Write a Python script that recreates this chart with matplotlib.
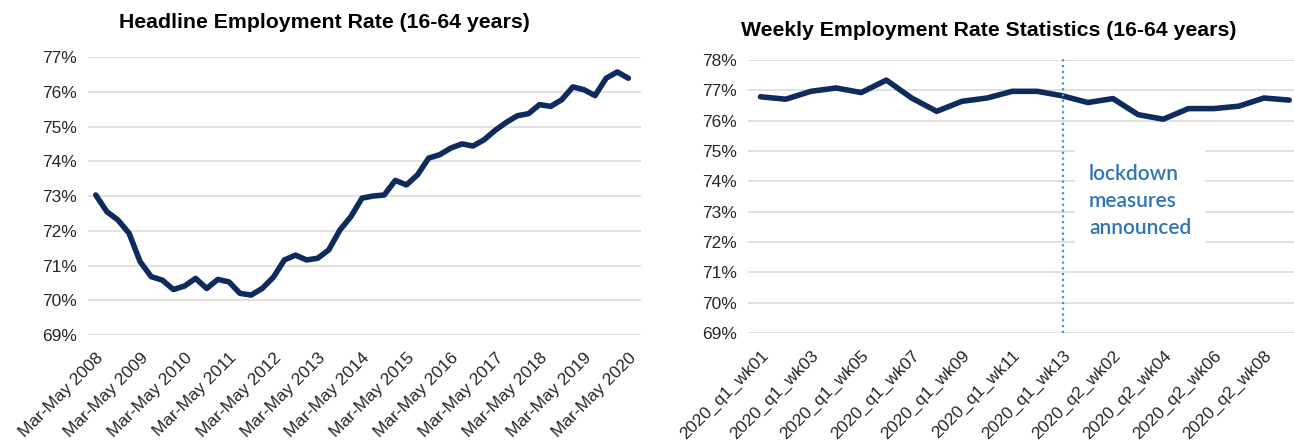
import matplotlib.pyplot as plt
import numpy as np

plt.rcParams['font.family'] = ['Liberation Sans', 'DejaVu Sans']

# headline rate, quarterly (Mar-May 2008 .. Mar-May 2020), %
headline_rate = [73.03, 72.55, 72.31, 71.93, 71.11, 70.68, 70.58, 70.31, 70.41, 70.63,
                 70.34, 70.60, 70.53, 70.20, 70.15, 70.34, 70.66, 71.16, 71.30, 71.16,
                 71.21, 71.45, 72.02, 72.41, 72.94, 73.00, 73.03, 73.45, 73.32, 73.61,
                 74.09, 74.19, 74.38, 74.50, 74.44, 74.62, 74.89, 75.12, 75.31, 75.37,
                 75.63, 75.58, 75.77, 76.14, 76.06, 75.89, 76.39, 76.57, 76.39]
quarter_names = ["Mar-May", "Jun-Aug", "Sep-Nov", "Dec-Feb"]
first_year = 2008

# weekly rate, 2020 q1 wk01 .. q2 wk09, %
weekly_rate = [76.79, 76.71, 76.97, 77.08, 76.93, 77.34, 76.75, 76.31, 76.64, 76.75,
               76.97, 76.97, 76.82, 76.60, 76.73, 76.20, 76.05, 76.40, 76.40, 76.48,
               76.75, 76.68]
weeks_q1 = 13
weeks_q2 = 9
lockdown_week = "2020_q1_wk13"

line_color = "#0f2a5c"
grid_color = "#d9d9d9"

headline_labels = []
for i in range(len(headline_rate)):
    yr = first_year + i // 4
    q = quarter_names[i % 4]
    if q == "Dec-Feb":
        headline_labels.append(f"{q} {yr + 1}")
    else:
        headline_labels.append(f"{q} {yr}")

week_labels = [f"2020_q1_wk{w:02d}" for w in range(1, weeks_q1 + 1)] + \
              [f"2020_q2_wk{w:02d}" for w in range(1, weeks_q2 + 1)]

fig = plt.figure(figsize=(12.94, 4.42), dpi=100)
ax1 = fig.add_axes([0.068, 0.242, 0.427, 0.629])
ax2 = fig.add_axes([0.578, 0.247, 0.428, 0.617])


def style_axis(ax, lo, hi):
    ax.set_ylim(lo, hi)
    ax.set_yticks(np.arange(lo, hi + 1))
    ax.set_yticklabels([f"{v}%" for v in range(lo, hi + 1)], fontsize=12.5, color="#262626")
    ax.grid(axis="y", color=grid_color, lw=1.1)
    ax.set_axisbelow(True)
    for s in ax.spines.values():
        s.set_visible(False)
    ax.tick_params(length=0, pad=8)


# left panel
x1 = np.arange(len(headline_rate))
ax1.plot(x1, headline_rate, color=line_color, lw=4, solid_capstyle="round",
         solid_joinstyle="round")
style_axis(ax1, 69, 77)
ax1.set_xlim(-0.7, len(headline_rate) - 1 + 1.1)
ax1.set_xticks(x1[::4])
ax1.set_xticklabels(headline_labels[::4], rotation=45, ha="right",
                    rotation_mode="anchor", fontsize=12.5, color="#262626")
ax1.tick_params(axis="x", pad=11)
fig.text(0.251, 0.948, "Headline Employment Rate (16-64 years)", ha="center",
         va="center", fontsize=15.3, fontweight="bold")

# right panel
x2 = np.arange(len(weekly_rate))
ax2.plot(x2, weekly_rate, color=line_color, lw=4, solid_capstyle="round",
         solid_joinstyle="round")
style_axis(ax2, 69, 78)
ax2.set_xlim(-0.5, len(weekly_rate) - 0.5)
ax2.set_xticks(x2[::2])
ax2.set_xticklabels(week_labels[::2], rotation=45, ha="right",
                    rotation_mode="anchor", fontsize=12.5, color="#262626")
ax2.tick_params(axis="x", pad=11)
fig.text(0.764, 0.93, "Weekly Employment Rate Statistics (16-64 years)", ha="center",
         va="center", fontsize=15.3, fontweight="bold")

lx = week_labels.index(lockdown_week)
ax2.axvline(lx, ymin=0, ymax=1.01, color="#4a90c8", lw=1.6, ls=(0, (1, 1.6)),
            clip_on=False)
ax2.text(lx + 1.05, 73.35, "lockdown\nmeasures\nannounced", color="#2e75b6",
         fontsize=15, family=["Lato", "DejaVu Sans"], fontweight="semibold",
         ha="left", va="center", linespacing=1.42,
         bbox=dict(facecolor="white", edgecolor="none", pad=10))

fig.savefig("out.png", dpi=100)
